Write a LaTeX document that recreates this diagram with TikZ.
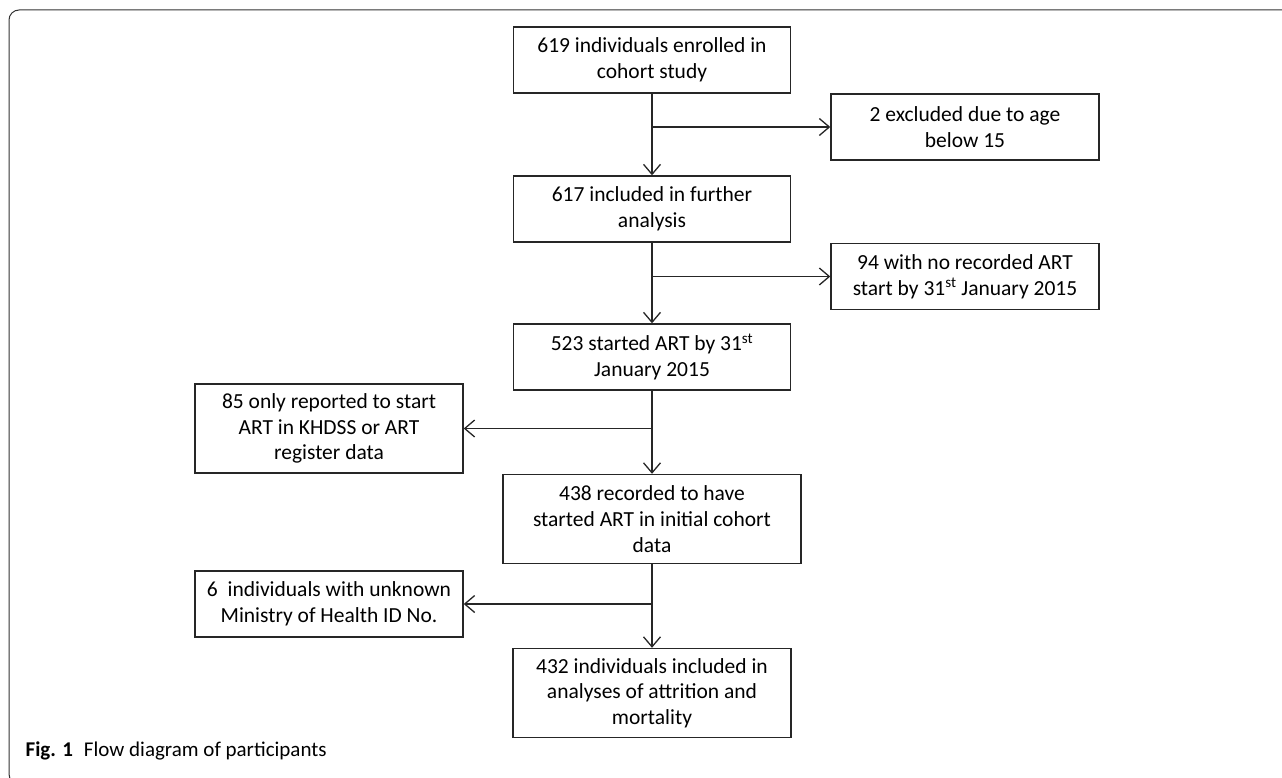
\documentclass[tikz,border=0pt]{standalone}
\usepackage{fontspec}
\setmainfont{Carlito}
\usetikzlibrary {arrows.meta, positioning}

\begin{document}
\begin{tikzpicture}[
    x=1pt, y=-1pt,
    ->,
    >={Straight Barb[length=10pt,width=17pt]},
    line width=1.3pt,
    draw=black!85,
    on grid,
    box/.style={draw, line width=1.4pt, align=center, inner sep=3pt,
                minimum height=66pt, font=\fontsize{21.5}{25.7}\selectfont},
    tall/.style={minimum height=89pt},
]
    \useasboundingbox (0,0) rectangle (1282,778);
    % frame round the figure
    \draw[-, line width=1pt, black!80, rounded corners=10pt]
        (1290,10) -- (9,10) -- (9,784) -- (1290,784);

    % main column
    \node[box, minimum width=277pt]       at (652,60)        (enrolled) {619 individuals enrolled in\\cohort study};
    \node[box, minimum width=277pt,       below=149pt of enrolled] (included) {617 included in further\\analysis};
    \node[box, minimum width=277pt,       below=148pt of included] (started)  {523 started ART by 31\textsuperscript{st}\\January 2015};
    \node[box, tall, minimum width=298pt, below=162pt of started]  (recorded) {438 recorded to have\\started ART in initial cohort\\data};
    \node[box, tall, minimum width=278pt, below=174pt of recorded] (analysed) {432 individuals included in\\analyses of attrition and\\mortality};

    % excluded boxes
    \node[box, minimum width=268pt, above right=82pt and 313pt of included]  (age)      {2 excluded due to age\\below 15};
    \node[box, minimum width=268pt, above right=80.5pt and 313pt of started] (noart)    {94 with no recorded ART\\start by 31\textsuperscript{st} January 2015};
    \node[box, tall, minimum width=268pt, above left=90.5pt and 323pt of recorded] (register) {85 only reported to start\\ART in KHDSS or ART\\register data};
    \node[box, minimum width=268pt, above left=89pt and 323pt of analysed]   (unknown)  {6~ individuals with unknown\\Ministry of Health ID No.};

    \path
        (enrolled) edge (included)
        (included) edge (started)
        (started)  edge (recorded)
        (recorded) edge (analysed)
        (enrolled |- age)      edge (age)
        (included |- noart)    edge (noart)
        (started  |- register) edge (register)
        (recorded |- unknown)  edge (unknown)
    ;

    \node[anchor=base west, inner sep=0pt, font=\fontsize{21}{25}\selectfont]
        (caption) at (25,756) {\textbf{Fig. 1}\hspace{11pt}Flow diagram of participants};
\end{tikzpicture}
\end{document}
